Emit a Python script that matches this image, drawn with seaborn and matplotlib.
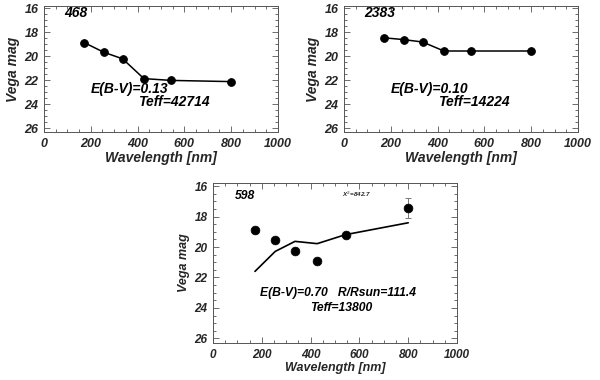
import matplotlib
matplotlib.use('Agg')
import matplotlib.pyplot as plt
import seaborn as sns
import pandas as pd
from matplotlib.ticker import MultipleLocator

# filter wavelengths [nm]
wl = [172, 255, 336, 427, 543, 800]

# star 468
mag_468 = [18.85, 19.65, 20.2, 21.85, 22.0, 22.1]
# star 2383
mag_2383 = [18.45, 18.6, 18.8, 19.55, 19.55, 19.55]
# star 598 : observed points, errors and model curve
mag_598 = [18.86, 19.56, 20.29, 20.95, 19.19, 17.42]
err_598 = [0.0, 0.0, 0.0, 0.0, 0.0, 0.65]
model_598 = [21.6, 20.29, 19.63, 19.78, 19.19, 18.41]

sns.set_style('ticks')
fam = ['Liberation Sans', 'DejaVu Sans']
plt.rcParams['font.family'] = fam


def style_axes(ax, tsize, lsize):
    ax.set_xlim(0, 1000)
    ax.set_ylim(26.3, 15.8)
    ax.xaxis.set_major_locator(MultipleLocator(200))
    ax.xaxis.set_minor_locator(MultipleLocator(50))
    ax.yaxis.set_major_locator(MultipleLocator(2))
    ax.yaxis.set_minor_locator(MultipleLocator(0.5))
    ax.tick_params(which='both', direction='in', top=True, right=True,
                   color='#555555', width=0.6)
    ax.tick_params(which='major', length=4, pad=4)
    ax.tick_params(which='minor', length=2)
    for sp in ax.spines.values():
        sp.set_visible(True)
        sp.set_color('#555555')
        sp.set_linewidth(0.7)
    for lab in ax.get_xticklabels() + ax.get_yticklabels():
        lab.set_fontsize(tsize)
        lab.set_fontweight('bold')
        lab.set_fontstyle('italic')
    font = dict(fontsize=lsize, fontweight='bold', fontstyle='italic')
    ax.set_xlabel('Wavelength [nm]', labelpad=1, **font)
    ax.set_ylabel('Vega mag', labelpad=3, **font)


fig = plt.figure(figsize=(6, 3.8), dpi=100)
ax1 = fig.add_axes([0.0733, 0.6526, 0.39, 0.3316])
ax2 = fig.add_axes([0.5733, 0.6526, 0.39, 0.3316])
ax3 = fig.add_axes([0.355, 0.0974, 0.4067, 0.421])

txt = dict(fontsize=10, fontweight='bold', fontstyle='italic', color='black')

for ax, mags, name, ebv, teff in [(ax1, mag_468, '468', '0.13', '42714'),
                                  (ax2, mag_2383, '2383', '0.10', '14224')]:
    df = pd.DataFrame({'wl': wl, 'mag': mags})
    sns.lineplot(data=df, x='wl', y='mag', ax=ax, color='black', lw=1.1,
                 marker='o', markersize=5.5, markeredgecolor='black')
    style_axes(ax, 9, 10)
    ax.text(85, 16.4, name, va='center', ha='left', **txt)
    ax.text(200, 22.75, 'E(B-V)=' + ebv, va='center', ha='left', **txt)
    ax.text(400, 23.8, 'Teff=' + teff, va='center', ha='left', **txt)

# bottom panel: star 598 with model
df3 = pd.DataFrame({'wl': wl, 'mag': mag_598, 'err': err_598, 'model': model_598})
sns.lineplot(data=df3, x='wl', y='model', ax=ax3, color='black', lw=1.2)
has_err = df3['err'] > 0
ax3.errorbar(df3['wl'][has_err], df3['mag'][has_err],
             yerr=df3['err'][has_err], fmt='none', ecolor='#777777',
             elinewidth=0.7, capsize=2.5, capthick=0.7)
sns.scatterplot(data=df3, x='wl', y='mag', ax=ax3, color='black', s=40,
                edgecolor='black', zorder=5)
style_axes(ax3, 8.5, 9)
txt3 = dict(txt, fontsize=8.7)
ax3.text(90, 16.66, '598', va='center', ha='left', **txt3)
ax3.text(527, 16.55, 'X$^2$=842.7', va='center', ha='left',
         fontsize=4.5, fontweight='bold', fontstyle='italic')
ax3.text(192, 23.05, 'E(B-V)=0.70   R/Rsun=111.4', va='center', ha='left', **txt3)
ax3.text(397, 24.0, 'Teff=13800', va='center', ha='left', **txt3)

fig.savefig('out.png', dpi=100)
